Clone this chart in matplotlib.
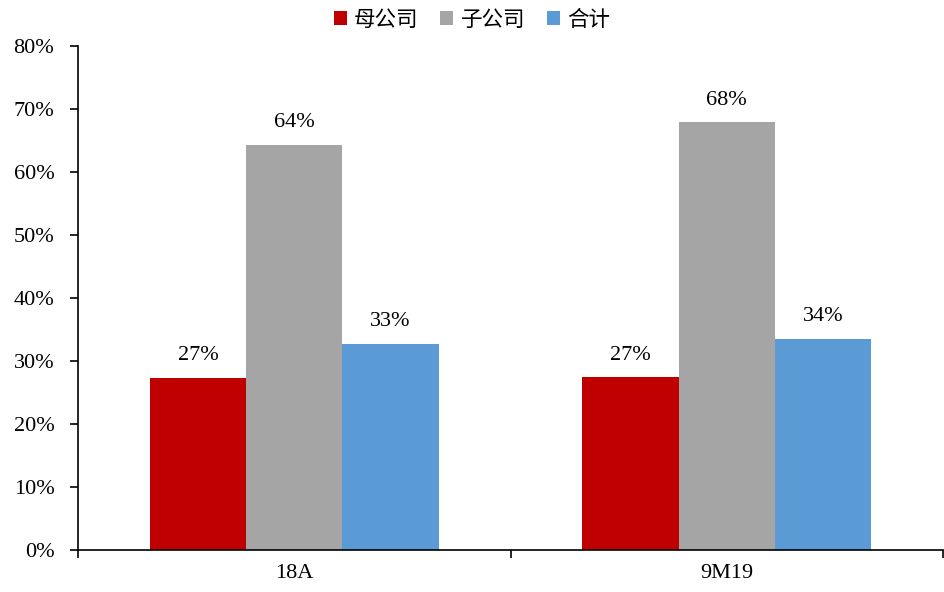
import matplotlib
matplotlib.use("Agg")
import matplotlib.pyplot as plt
from matplotlib.ticker import FixedLocator, PercentFormatter
import numpy as np

categories = ["18A", "9M19"]
series_names = ["母公司", "子公司", "合计"]
parent_vals = [27.3, 27.4]
subsidiary_vals = [64.3, 67.9]
total_vals = [32.7, 33.5]
colors = ["#C00000", "#A5A5A5", "#5B9BD5"]
y_ticks = [0, 10, 20, 30, 40, 50, 60, 70, 80]

serif = ["Liberation Serif", "DejaVu Serif"]
cjk = ["Noto Sans CJK SC", "DejaVu Sans"]

fig = plt.figure(figsize=(9.44, 5.92), dpi=100)
ax = fig.add_axes([0.0826, 0.0709, 0.9164, 0.8514])

x = np.arange(len(categories))
width = 0.2225
offsets = [-width, 0, width]
all_vals = [parent_vals, subsidiary_vals, total_vals]

handles = []
for vals, off, col, name in zip(all_vals, offsets, colors, series_names):
    bars = ax.bar(x + off, vals, width=width, color=col, label=name, zorder=2)
    handles.append(bars)
    for b, v in zip(bars, vals):
        ax.text(b.get_x() + b.get_width() / 2, v + 2.0, f"{v:.0f}%",
                ha="center", va="bottom", fontsize=16, family=serif)

ax.set_xlim(-0.5, 1.5)
ax.set_ylim(0, 80)
ax.yaxis.set_major_locator(FixedLocator(y_ticks))
ax.yaxis.set_major_formatter(PercentFormatter(decimals=0))

# category boundary ticks on the x axis, labels centred under each group
ax.set_xticks([-0.5, 0.5, 1.5])
ax.set_xticklabels([])
ax.set_xticks(x, minor=True)
ax.set_xticklabels(categories, minor=True)
ax.tick_params(axis="x", which="major", direction="out", length=6, width=1.2)
ax.tick_params(axis="x", which="minor", length=0, pad=10)
ax.tick_params(axis="y", direction="out", length=6, width=1.2, pad=11)

for lab in ax.get_yticklabels() + ax.get_xticklabels(minor=True):
    lab.set_fontfamily(serif)
    lab.set_fontsize(16)

for side in ["top", "right"]:
    ax.spines[side].set_visible(False)
for side in ["left", "bottom"]:
    ax.spines[side].set_linewidth(1.2)
    ax.spines[side].set_color("black")

leg = fig.legend(handles=handles, labels=series_names, loc="upper center",
                 bbox_to_anchor=(0.5, 1.018), ncol=3, frameon=False,
                 prop={"family": cjk, "size": 15.5}, handlelength=0.6,
                 handleheight=0.6, handletextpad=0.35, columnspacing=1.0)

fig.savefig("out.png", dpi=100)
